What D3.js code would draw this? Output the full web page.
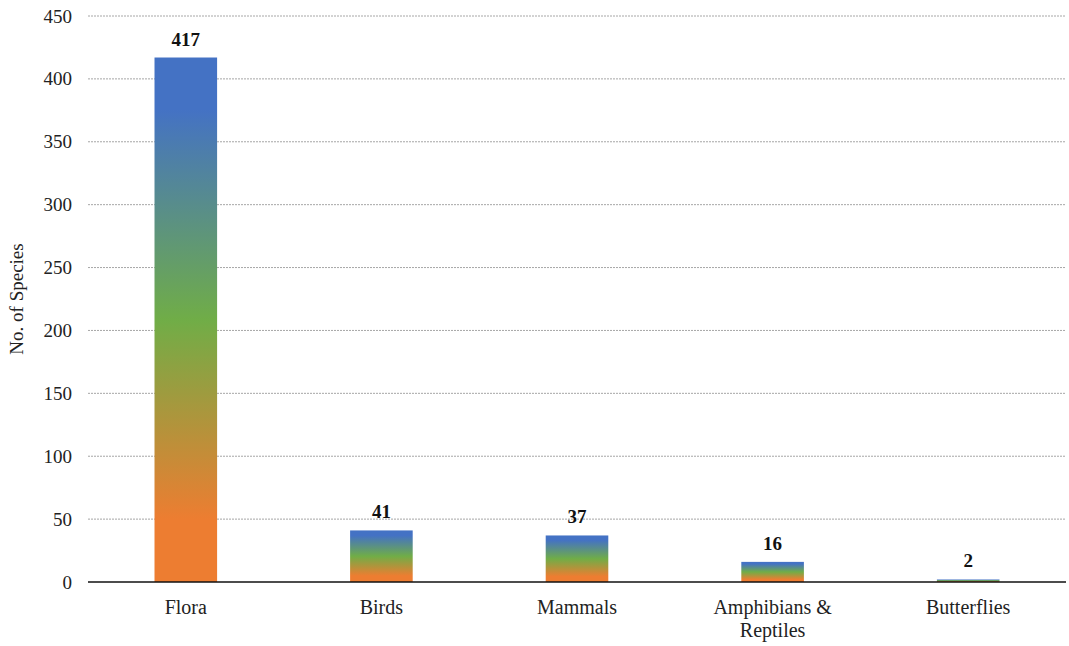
<!DOCTYPE html>
<html>
<head>
<meta charset="utf-8">
<script src="https://cdn.jsdelivr.net/npm/d3@7"></script>
<style>
  body { margin: 0; background: #fff; }
  svg { display: block; font-family: "Liberation Serif", "Times New Roman", serif; }
</style>
</head>
<body>
<div id="chart"></div>
<script>
// chart data
let categories = ["Flora", "Birds", "Mammals", "Amphibians & Reptiles", "Butterflies"];
let speciesCount = [417, 41, 37, 16, 2];
let yTicks = [0, 50, 100, 150, 200, 250, 300, 350, 400, 450];

let width = 1069, height = 646;
let margin = {left: 88, right: 3, top: 16, bottom: 64};

let svg = d3.select("#chart").append("svg")
    .attr("width", width)
    .attr("height", height);

// per-bar gradient, orange bottom -> green middle -> blue top
let defs = svg.append("defs");
let grad = defs.append("linearGradient")
    .attr("id", "barGrad")
    .attr("x1", 0).attr("y1", 1).attr("x2", 0).attr("y2", 0);
grad.append("stop").attr("offset", "0%").attr("stop-color", "#ED7D31");
grad.append("stop").attr("offset", "12%").attr("stop-color", "#ED7D31");
grad.append("stop").attr("offset", "50%").attr("stop-color", "#70AD47");
grad.append("stop").attr("offset", "90%").attr("stop-color", "#4472C4");
grad.append("stop").attr("offset", "100%").attr("stop-color", "#4472C4");

let x = d3.scaleBand().domain(categories)
    .range([margin.left, width - margin.right])
    .paddingInner(0.68).paddingOuter(0.34);
let y = d3.scaleLinear().domain([0, 450])
    .range([height - margin.bottom, margin.top]);

// gridlines
svg.append("g").selectAll("line")
    .data(yTicks.filter(function(d){ return d > 0; }))
    .enter().append("line")
    .attr("x1", margin.left).attr("x2", width - margin.right)
    .attr("y1", function(d){ return y(d); }).attr("y2", function(d){ return y(d); })
    .attr("stroke", "#a6a6a6")
    .attr("stroke-width", 1)
    .attr("stroke-dasharray", "2,1");

// y axis labels
let yAxis = d3.axisLeft(y).tickValues(yTicks).tickSize(0).tickPadding(16);
let yg = svg.append("g")
    .attr("transform", "translate(" + margin.left + ",0)")
    .call(yAxis);
yg.select(".domain").remove();
yg.selectAll("text")
    .attr("font-family", "Liberation Serif")
    .attr("font-size", 19)
    .attr("fill", "#222");

// bars
svg.append("g").selectAll("rect")
    .data(speciesCount)
    .enter().append("rect")
    .attr("x", function(d, i){ return x(categories[i]); })
    .attr("width", x.bandwidth())
    .attr("y", function(d){ return y(d); })
    .attr("height", function(d){ return y(0) - y(d); })
    .attr("fill", "url(#barGrad)");

// value labels
svg.append("g").selectAll("text")
    .data(speciesCount)
    .enter().append("text")
    .text(function(d){ return d; })
    .attr("x", function(d, i){ return x(categories[i]) + x.bandwidth()/2; })
    .attr("y", function(d){ return y(d) - 12; })
    .attr("text-anchor", "middle")
    .attr("font-size", 19)
    .attr("font-weight", "bold")
    .attr("fill", "#111");

// x axis line
svg.append("line")
    .attr("x1", margin.left).attr("x2", width - margin.right)
    .attr("y1", y(0)).attr("y2", y(0))
    .attr("stroke", "#111")
    .attr("stroke-width", 1.5);

// category labels (wrapped)
let wrapped = {"Amphibians & Reptiles": ["Amphibians &", "Reptiles"]};
let catG = svg.append("g").selectAll("text")
    .data(categories)
    .enter().append("text")
    .attr("x", function(d){ return x(d) + x.bandwidth()/2; })
    .attr("y", y(0) + 32)
    .attr("text-anchor", "middle")
    .attr("font-size", 20)
    .attr("fill", "#222");
catG.each(function(d){
    let lines = wrapped[d] || [d];
    let t = d3.select(this);
    lines.forEach(function(l, k){
        t.append("tspan")
            .attr("x", t.attr("x"))
            .attr("dy", k === 0 ? 0 : 23)
            .text(l);
    });
});

// y axis title
svg.append("text")
    .text("No. of Species")
    .attr("transform", "translate(23," + ((margin.top + height - margin.bottom)/2) + ") rotate(-90)")
    .attr("text-anchor", "middle")
    .attr("font-size", 19)
    .attr("fill", "#222");
</script>
</body>
</html>
